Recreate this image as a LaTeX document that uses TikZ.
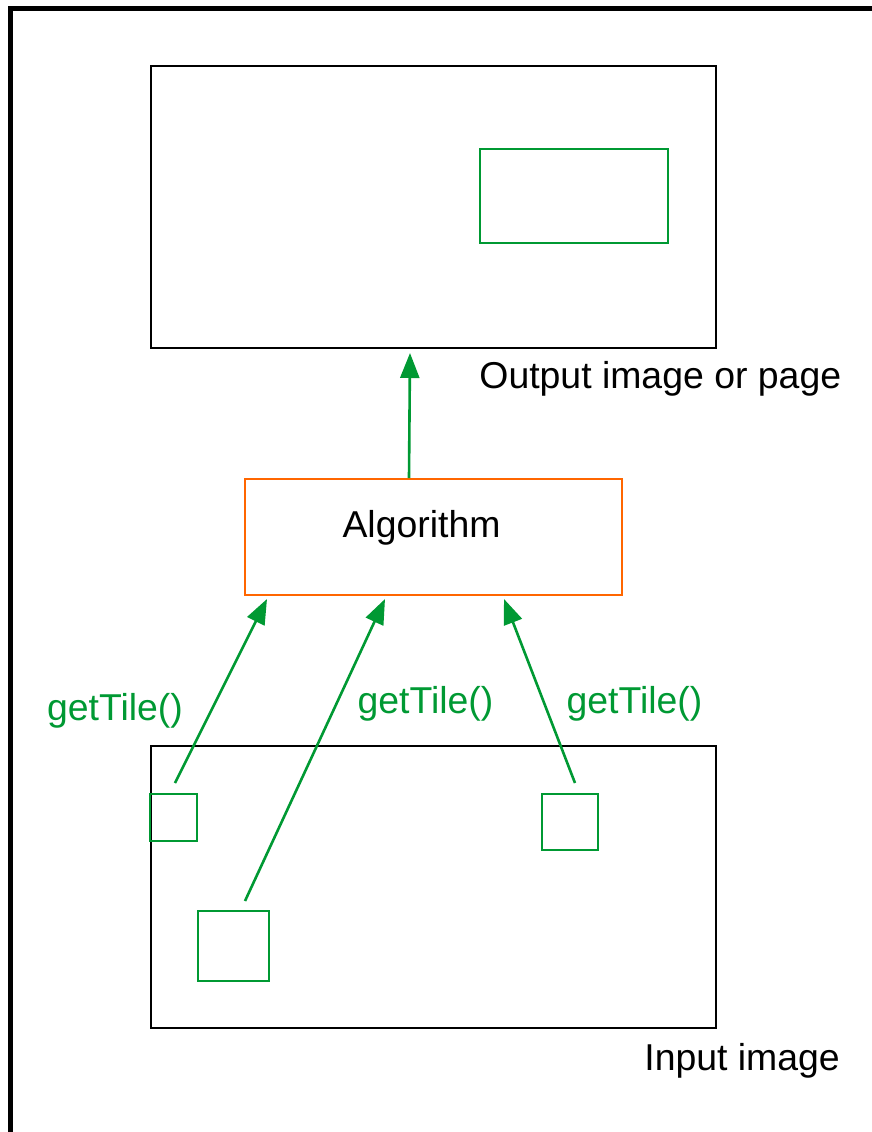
\documentclass[tikz,border=0pt]{standalone}
\usepackage{fontspec}
\setmainfont{Liberation Sans}
\usetikzlibrary{arrows.meta, calc}
\definecolor{tilegreen}{RGB}{0,153,51}
\definecolor{algorange}{RGB}{255,102,0}

\begin{document}
\begin{tikzpicture}[x=0.5pt, y=-0.5pt,
  imgbox/.style = {draw, line width=1pt, inner sep=0pt},
  tilebox/.style = {draw=tilegreen, line width=1pt, inner sep=0pt},
  tilearrow/.style = {draw=tilegreen, line width=1.3pt, -{Triangle[length=12.5pt, width=9.5pt, fill=tilegreen]}},
  lbl/.style = {font=\fontsize{18.7}{22}\selectfont, inner sep=0pt}]
\useasboundingbox (0,0) rectangle (872,1132);
\draw[line width=2.5pt] (10.5,1132) -- (10.5,8.5) -- (872,8.5);
\node[imgbox, minimum width=282.5pt, minimum height=141pt] (out) at (433.5,207) {};
\node[tilebox, minimum width=94pt, minimum height=47pt] (outtile) at (574,196) {};
\node[lbl, anchor=base west] (outlbl) at (479,388) {Output image or page};
\node[draw=algorange, line width=1pt, inner sep=0pt, minimum width=188.5pt, minimum height=58pt] (alg) at (433.5,537) {};
\node[lbl] (algtext) at (421.5,528) {Algorithm};
\node[imgbox, minimum width=282.5pt, minimum height=141pt] (in) at (433.5,887) {};
\node[lbl, anchor=base west] (inlbl) at (644,1070) {Input image};
\node[tilebox, minimum width=23.5pt, minimum height=23.5pt] (tile1) at (173.5,817.5) {};
\node[tilebox, minimum width=35.5pt, minimum height=35pt] (tile2) at (233.5,946) {};
\node[tilebox, minimum width=28pt, minimum height=28pt] (tile3) at (570,822) {};
\node[lbl, text=tilegreen] (get1) at (115,711) {getTile()};
\node[lbl, text=tilegreen] (get2) at (425.5,704) {getTile()};
\node[lbl, text=tilegreen] (get3) at (634.5,704) {getTile()};
\draw[tilearrow] ($(alg.north west)+(165,0)$) -- ($(out.south)+(-23.5,4)$);
\draw[tilearrow] ($(tile1.north)+(1.5,-10)$) -- ($(alg.south west)+(23,3)$);
\draw[tilearrow] ($(tile2.north)+(11.5,-9)$) -- ($(alg.south west)+(141,3)$);
\draw[tilearrow] ($(tile3.north)+(5,-10)$) -- ($(alg.south west)+(260,3)$);
\end{tikzpicture}
\end{document}
